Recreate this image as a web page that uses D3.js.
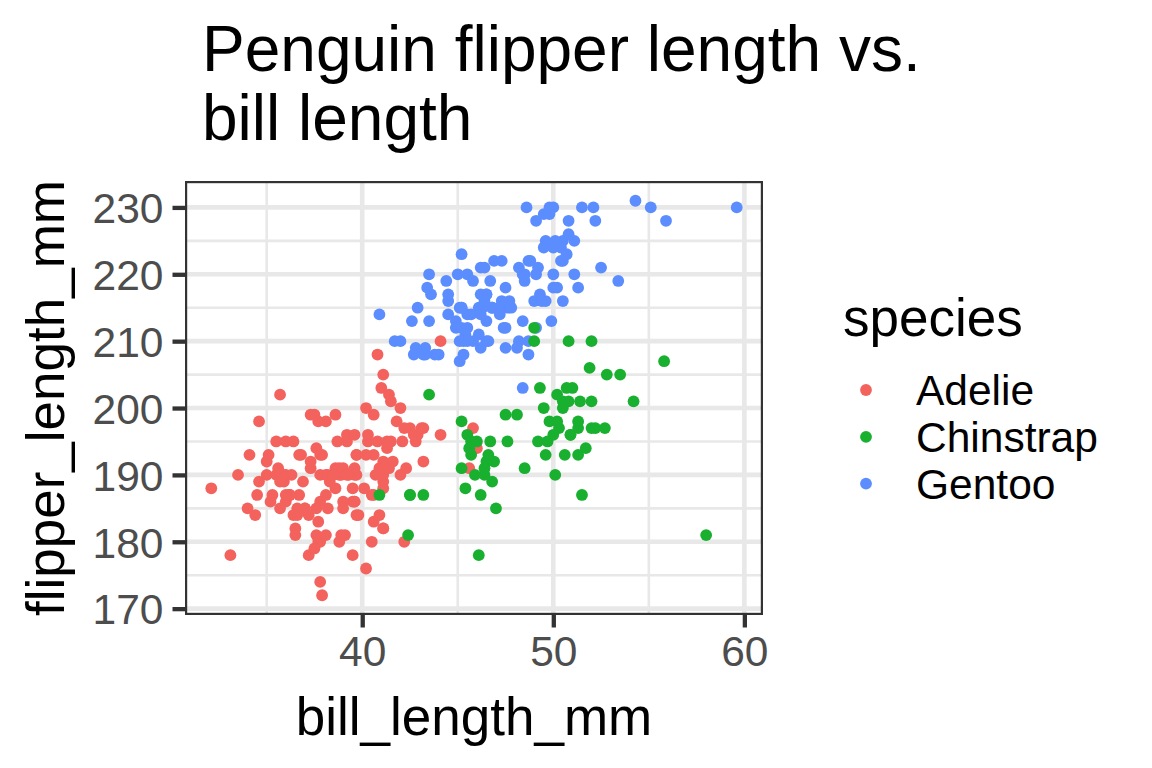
<!DOCTYPE html>
<html>
<head>
<meta charset="utf-8">
<script src="https://cdn.jsdelivr.net/npm/d3@7"></script>
<style>
  html, body { margin: 0; padding: 0; background: #fff; }
  svg { display: block; font-family: "Liberation Sans", Arial, Helvetica, sans-serif; }
</style>
</head>
<body>
<svg id="chart" width="1152" height="768"></svg>
<script>
// ---------------- DATA ----------------
const titleLines = ["Penguin flipper length vs.", "bill length"];
const xLabel = "bill_length_mm";
const yLabel = "flipper_length_mm";
const legendTitle = "species";
const species = ["Adelie", "Chinstrap", "Gentoo"];
const speciesColors = ["#F4625D", "#19B030", "#5B8DFF"];
const xTicks = [40, 50, 60];
const yTicks = [170, 180, 190, 200, 210, 220, 230];
const xMinor = [35, 45, 55];
const yMinor = [175, 185, 195, 205, 215, 225];

const adelieBill = [39.1,39.5,40.3,36.7,39.3,38.9,39.2,34.1,42.0,37.8,37.8,41.1,38.6,34.6,36.6,38.7,42.5,34.4,46.0,
37.8,37.7,35.9,38.2,38.8,35.3,40.6,40.5,37.9,40.5,
39.5,37.2,39.5,40.9,36.4,39.2,38.8,42.2,37.6,39.8,36.5,40.8,36.0,44.1,37.0,39.6,41.1,37.5,36.0,42.3,
39.6,40.1,35.0,42.0,34.5,41.4,39.0,40.6,36.5,37.6,35.7,41.3,37.6,41.1,36.4,41.6,35.5,41.1,
35.9,41.8,33.5,39.7,39.6,45.8,35.5,42.8,40.9,37.2,36.2,42.1,34.6,42.9,36.7,35.1,
37.3,41.3,36.3,36.9,38.3,38.9,35.7,41.1,34.0,39.6,36.2,40.8,38.1,40.3,33.1,43.2,
35.0,41.0,37.7,37.8,37.9,39.7,38.6,38.2,38.1,43.2,38.1,45.6,39.7,42.2,39.6,42.7,
38.6,37.3,35.7,41.1,36.2,37.7,40.2,41.4,35.2,40.6,38.8,41.5,39.0,44.1,38.5,43.1,
36.8,37.5,38.1,41.1,35.6,40.2,37.0,39.7,40.2,40.6,32.1,40.7,37.3,39.0,39.2,36.6,36.0,37.8,36.0,41.5];
const adelieFlipper = [181,186,195,193,190,181,195,193,190,186,180,182,191,198,185,195,197,184,194,
174,180,189,185,180,187,183,187,172,180,
178,178,188,184,195,196,190,180,181,184,182,195,186,196,185,190,182,179,190,191,
186,188,190,200,187,191,186,193,181,194,185,195,185,192,184,192,195,188,
190,198,190,190,196,197,190,195,191,184,187,195,189,196,187,193,
191,194,190,189,189,190,202,205,185,186,187,208,190,196,178,192,
192,203,183,190,193,184,199,190,181,197,198,191,193,197,191,196,
188,199,189,189,187,198,176,202,186,199,191,195,191,210,190,197,
193,199,187,190,191,200,185,193,193,187,188,190,192,185,190,184,195,193,187,201];

const gentooBill = [46.1,50.0,48.7,50.0,47.6,46.5,45.4,46.7,43.3,46.8,40.9,49.0,45.5,48.4,45.8,49.3,42.0,49.2,46.2,48.7,50.2,45.1,46.5,46.3,42.9,46.1,44.5,47.8,48.2,50.0,47.3,42.8,45.1,59.6,
49.1,48.4,42.6,44.4,44.0,48.7,42.7,49.6,45.3,49.6,50.5,43.6,45.5,50.5,44.9,45.2,46.6,48.5,45.1,50.1,46.5,45.0,43.8,45.5,43.2,50.4,45.3,46.2,45.7,54.3,45.8,49.8,46.2,49.5,43.5,50.7,47.7,46.4,48.2,46.5,46.4,48.6,
47.5,51.1,45.2,45.2,49.1,52.5,47.4,50.0,44.9,50.8,43.4,51.3,47.5,52.1,47.5,52.2,45.5,49.5,44.5,50.8,49.4,46.9,48.4,51.1,48.5,55.9,47.2,49.1,47.3,46.8,41.7,53.4,43.3,48.1,50.5,49.8,43.5,51.5,46.2,55.1,44.5,48.8,47.2,46.8,50.4,45.2,49.9];
const gentooFlipper = [211,230,210,218,215,210,211,219,209,215,214,216,214,213,210,217,210,221,209,222,218,215,213,215,215,215,216,215,210,220,222,209,207,230,
220,220,213,219,208,208,208,225,210,216,222,217,210,225,213,215,210,220,210,225,217,220,208,220,208,224,208,221,214,231,219,230,214,229,220,223,216,221,221,217,216,230,
209,220,215,223,212,221,212,224,212,228,218,218,212,230,218,228,212,224,214,226,216,222,203,225,219,228,215,228,216,215,210,219,208,209,216,229,213,230,217,230,217,222,214,215,222,212,213];

const chinstrapBill = [46.5,50.0,51.3,45.4,52.7,45.2,46.1,51.3,46.0,51.3,46.6,51.7,47.0,52.0,45.9,50.5,50.3,58.0,46.4,49.2,42.4,48.5,43.2,50.6,46.7,52.0,
50.5,49.5,46.4,52.8,40.9,54.2,42.5,51.0,49.7,47.5,47.6,52.0,46.9,53.5,49.0,46.2,50.9,45.5,
50.9,50.8,50.1,49.0,51.5,49.8,48.1,51.4,45.7,50.7,42.5,52.2,45.2,49.3,50.2,45.6,51.9,46.8,45.7,55.8,43.5,49.6,50.8,50.2];
const chinstrapFlipper = [192,196,193,188,197,198,178,197,195,198,193,194,185,201,190,201,197,181,190,195,181,191,187,193,195,197,
200,200,191,205,187,201,187,203,195,199,195,210,192,205,210,187,196,196,
196,201,190,212,187,198,199,201,193,203,187,197,191,203,202,194,206,189,195,207,202,193,210,198];

// drawing order follows the original data order (Adelie, Gentoo, Chinstrap)
const groups = [
  { name: "Adelie", bill: adelieBill, flipper: adelieFlipper },
  { name: "Gentoo", bill: gentooBill, flipper: gentooFlipper },
  { name: "Chinstrap", bill: chinstrapBill, flipper: chinstrapFlipper }
];

// ---------------- LAYOUT ----------------
const svg = d3.select("#chart");
const panel = { left: 185, right: 763, top: 181, bottom: 615 };

const allX = [].concat(adelieBill, gentooBill, chinstrapBill);
const allY = [].concat(adelieFlipper, gentooFlipper, chinstrapFlipper);
const xExt = d3.extent(allX), yExt = d3.extent(allY);
const xPad = (xExt[1] - xExt[0]) * 0.05, yPad = (yExt[1] - yExt[0]) * 0.05;

const x = d3.scaleLinear().domain([xExt[0] - xPad, xExt[1] + xPad]).range([panel.left, panel.right]);
const y = d3.scaleLinear().domain([yExt[0] - yPad, yExt[1] + yPad]).range([panel.bottom, panel.top]);
const color = d3.scaleOrdinal().domain(species).range(speciesColors);

const pw = panel.right - panel.left, ph = panel.bottom - panel.top;
const gridColor = "#E8E8E8";

svg.append("defs").append("clipPath").attr("id", "panelClip")
  .append("rect").attr("x", panel.left).attr("y", panel.top).attr("width", pw).attr("height", ph);

const g = svg.append("g").attr("clip-path", "url(#panelClip)");
g.append("rect").attr("x", panel.left).attr("y", panel.top).attr("width", pw).attr("height", ph).attr("fill", "#fff");

// minor grid
g.selectAll(".xminor").data(xMinor).join("line")
  .attr("x1", d => x(d)).attr("x2", d => x(d)).attr("y1", panel.top).attr("y2", panel.bottom)
  .attr("stroke", gridColor).attr("stroke-width", 2.6);
g.selectAll(".yminor").data(yMinor).join("line")
  .attr("y1", d => y(d)).attr("y2", d => y(d)).attr("x1", panel.left).attr("x2", panel.right)
  .attr("stroke", gridColor).attr("stroke-width", 2.6);
// major grid
g.selectAll(".xmajor").data(xTicks).join("line")
  .attr("x1", d => x(d)).attr("x2", d => x(d)).attr("y1", panel.top).attr("y2", panel.bottom)
  .attr("stroke", gridColor).attr("stroke-width", 4.6);
g.selectAll(".ymajor").data(yTicks).join("line")
  .attr("y1", d => y(d)).attr("y2", d => y(d)).attr("x1", panel.left).attr("x2", panel.right)
  .attr("stroke", gridColor).attr("stroke-width", 4.6);

// points
groups.forEach(grp => {
  const pts = grp.bill.map((b, i) => [b, grp.flipper[i]]);
  g.append("g").selectAll("circle").data(pts).join("circle")
    .attr("cx", d => x(d[0])).attr("cy", d => y(d[1])).attr("r", 5.9)
    .attr("fill", color(grp.name));
});

// border (clipped -> half visible)
g.append("rect").attr("x", panel.left).attr("y", panel.top).attr("width", pw).attr("height", ph)
  .attr("fill", "none").attr("stroke", "#333333").attr("stroke-width", 4.4);

// axes
const tickLen = 12.5;
const xAxis = d3.axisBottom(x).tickValues(xTicks).tickSize(tickLen).tickPadding(8);
const yAxis = d3.axisLeft(y).tickValues(yTicks).tickSize(tickLen).tickPadding(9);

const xa = svg.append("g").attr("transform", `translate(0,${panel.bottom})`).call(xAxis);
const ya = svg.append("g").attr("transform", `translate(${panel.left},0)`).call(yAxis);
[xa, ya].forEach(a => {
  a.select(".domain").remove();
  a.selectAll(".tick line").attr("stroke", "#333333").attr("stroke-width", 4.3);
  a.selectAll(".tick text").attr("fill", "#4D4D4D").attr("font-size", 42.5)
    .attr("font-family", "Liberation Sans, Arial, sans-serif");
});
xa.selectAll(".tick text").attr("dy", null).attr("y", tickLen + 8).attr("dominant-baseline", "hanging");
ya.selectAll(".tick text").attr("dy", "0.36em");

// axis titles
svg.append("text").attr("x", (panel.left + panel.right) / 2).attr("y", 735)
  .attr("text-anchor", "middle").attr("font-size", 53).attr("fill", "#000").text(xLabel);
svg.append("text").attr("transform", `translate(64,${(panel.top + panel.bottom) / 2}) rotate(-90)`)
  .attr("text-anchor", "middle").attr("font-size", 53).attr("fill", "#000").text(yLabel);

// title
svg.append("g").selectAll("text").data(titleLines).join("text")
  .attr("x", 202).attr("y", (d, i) => 71 + i * 69)
  .attr("font-size", 64).attr("fill", "#000").text(d => d);

// legend
svg.append("text").attr("x", 843).attr("y", 336).attr("font-size", 53).attr("fill", "#000").text(legendTitle);
const leg = svg.append("g").selectAll("g").data(species).join("g")
  .attr("transform", (d, i) => `translate(866,${390 + i * 46.8})`);
leg.append("circle").attr("r", 5.9).attr("fill", d => color(d));
leg.append("text").attr("x", 50).attr("dy", "0.36em").attr("font-size", 42.5).attr("fill", "#000").text(d => d);
</script>
</body>
</html>
